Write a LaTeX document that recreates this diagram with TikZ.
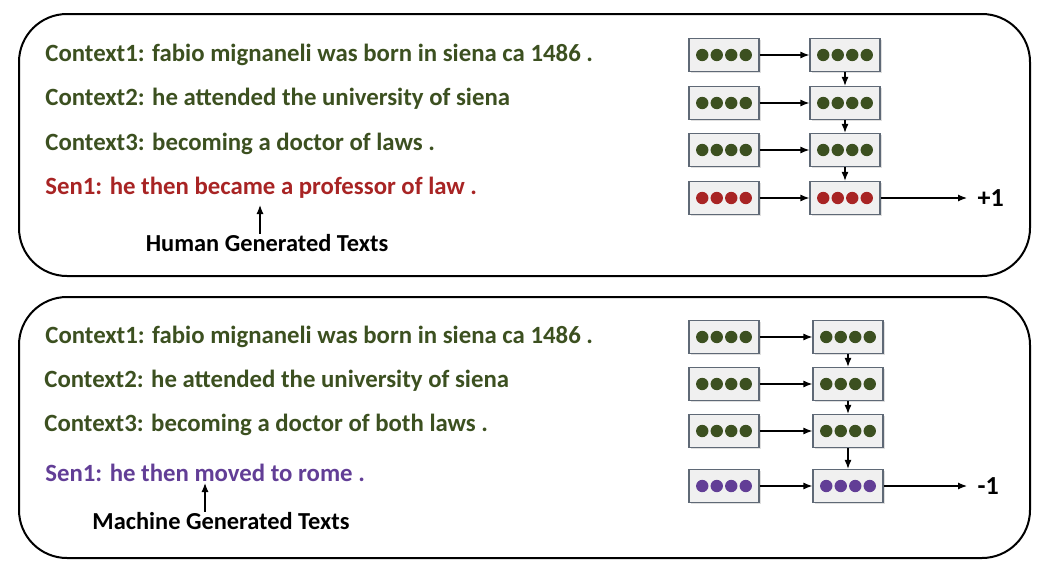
\documentclass[tikz,border=0pt]{standalone}
\usepackage{fontspec}
\setmainfont{Carlito}
\usetikzlibrary{calc, arrows.meta, shadows}
\definecolor{ctxgreen}{RGB}{60,80,32}
\definecolor{humred}{RGB}{168,36,36}
\definecolor{macpurple}{RGB}{98,62,150}
\definecolor{boxedge}{RGB}{95,105,118}
\tikzset{>={Latex[length=4.5pt,width=3.5pt]},
  panel/.style={draw=black, line width=1pt, rounded corners=24pt},
  vecbox/.style={draw=boxedge, line width=0.6pt, fill=black!6,
    minimum width=35pt, minimum height=16.5pt, inner sep=0pt,
    drop shadow={shadow xshift=0.8pt, shadow yshift=-0.8pt, opacity=0.25}},
  sent/.style={anchor=west, font=\fontsize{12.4}{14}\selectfont\bfseries, inner sep=0pt},
  tag/.style={font=\fontsize{12.2}{14}\selectfont\bfseries, inner sep=0pt},
  score/.style={font=\fontsize{13}{15}\selectfont\bfseries, inner sep=0pt},
  link/.style={->, line width=0.6pt}
}
\newcommand{\vecdots}[2]{%
  \foreach \k in {-1.5,-0.5,0.5,1.5}
    \fill[#2] ($(#1.center)+(\k*14.5,0)$) circle (3.1pt);}

\begin{document}
\begin{tikzpicture}[x=0.5pt, y=-0.5pt]
\useasboundingbox (0,0) rectangle (1040,573);
% panels
\draw[panel] (19,14) rectangle (1030,276);
\draw[panel] (19,297) rectangle (1030,558);

% top: human texts
\node[sent, ctxgreen] (hc1) at (45,55) {Context1: fabio mignaneli was born in siena ca 1486 .};
\node[sent, ctxgreen] (hc2) at (45,99) {Context2: he attended the university of siena};
\node[sent, ctxgreen] (hc3) at (45,144) {Context3: becoming a doctor of laws .};
\node[sent, humred] (hs1) at (45,188) {Sen1: he then became a professor of law .};
\node[tag] (human) at (267,243) {Human Generated Texts};
\coordinate (hpt) at (260,205);
\draw[link] (human.north -| hpt) -- (hpt);

% bottom: machine texts
\node[sent, ctxgreen] (mc1) at (45,337) {Context1: fabio mignaneli was born in siena ca 1486 .};
\node[sent, ctxgreen] (mc2) at (44,381) {Context2: he attended the university of siena};
\node[sent, ctxgreen] (mc3) at (44,425) {Context3: becoming a doctor of both laws .};
\node[sent, macpurple] (ms1) at (45,473) {Sen1: he then moved to rome .};
\node[tag] (machine) at (221,521) {Machine Generated Texts};
\coordinate (mpt) at (205,483);
\draw[link] (machine.north -| mpt) -- (mpt);

% top encoder
\foreach \r/\y/\c in {1/55/ctxgreen, 2/103/ctxgreen, 3/150/ctxgreen, 4/198/humred}{
  \node[vecbox] (hl\r) at (724,\y) {};
  \node[vecbox] (hr\r) at (845,\y) {};
  \vecdots{hl\r}{\c}
  \vecdots{hr\r}{\c}
  \draw[link] (hl\r) -- (hr\r);
}
\foreach \a/\b in {1/2, 2/3, 3/4}
  \draw[link] (hr\a) -- (hr\b);
\coordinate (hout) at (967,198);
\draw[link] (hr4) -- (hout) node[right=5pt, score]{+1};

% bottom encoder
\foreach \r/\y/\c in {1/337/ctxgreen, 2/384/ctxgreen, 3/431/ctxgreen, 4/486/macpurple}{
  \node[vecbox] (ml\r) at (724,\y) {};
  \node[vecbox] (mr\r) at (848,\y) {};
  \vecdots{ml\r}{\c}
  \vecdots{mr\r}{\c}
  \draw[link] (ml\r) -- (mr\r);
}
\foreach \a/\b in {1/2, 2/3, 3/4}
  \draw[link] (mr\a) -- (mr\b);
\coordinate (mout) at (967,486);
\draw[link] (mr4) -- (mout) node[right=5pt, score]{-1};
\end{tikzpicture}
\end{document}
